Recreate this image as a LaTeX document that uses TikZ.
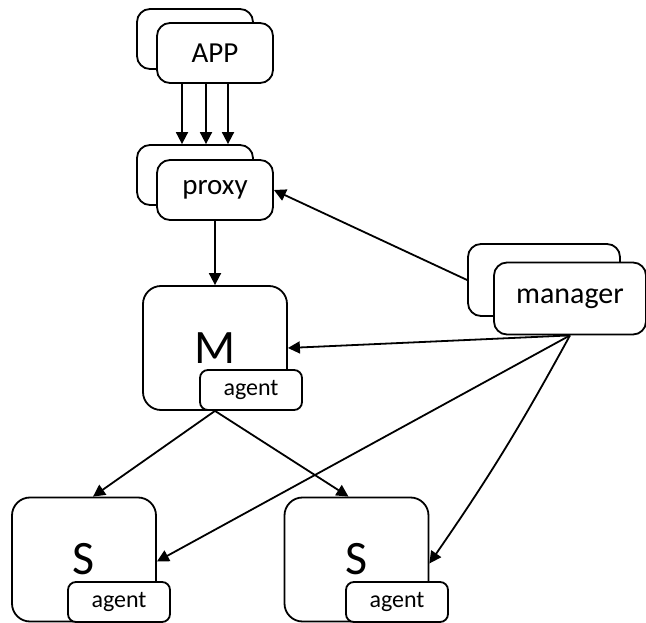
\documentclass[tikz,border=0pt]{standalone}
\usepackage{fontspec}
\setmainfont{Carlito}
\usetikzlibrary{arrows.meta}
\begin{document}
\begin{tikzpicture}
    [x=1pt,y=-1pt,
    box/.style={draw,line width=1.8pt,rounded corners=13pt,fill=white,inner sep=0pt},
    small/.style={box,minimum width=116pt,minimum height=60pt,font=\fontsize{29}{32}\selectfont},
    mgrbox/.style={box,minimum width=152pt,minimum height=72pt,font=\fontsize{30}{33}\selectfont},
    host/.style={box,rounded corners=18pt,minimum width=144pt,minimum height=124pt,font=\fontsize{48}{52}\selectfont},
    agentbox/.style={box,rounded corners=8pt,minimum width=102pt,minimum height=40pt,font=\fontsize{24}{28}\selectfont},
    arr/.style={line width=1.8pt,-{Triangle[length=12pt,width=12pt]}}]
    \useasboundingbox (0,0) rectangle (646,623);
    % apps and proxies
    \node[small] (appback) at (195,39) {};
    \node[small] (app) at (215,53) {APP};
    \node[small] (proxyback) at (195,175) {};
    \node[small] (proxy) at (215,190) {proxy};
    % manager
    \node[mgrbox] (mgrback) at (544,280) {};
    \node[mgrbox] (mgr) at (570,298.5) {manager};
    % master and slaves
    \node[host] (M) at (215,348) {M};
    \node[agentbox] (Magent) at (251,390) {agent};
    \node[host] (S1) at (84,559.5) {S};
    \node[agentbox] (S1agent) at (119,602) {agent};
    \node[host] (S2) at (356.5,559.5) {S};
    \node[agentbox] (S2agent) at (397,602) {agent};
    % connectors
    \foreach \dx in {-33,-9,13}
      \draw[arr] ([xshift=\dx pt]app.south) -- ([xshift=\dx pt]app.south |- proxyback.north);
    \draw[arr] (proxy) -- (M);
    \draw[arr] (mgrback.west) -- (proxy.east);
    \draw[arr] (mgr.south) -- (M.east);
    \draw[arr] (mgr.south) -- ([yshift=-2pt]S1.east);
    \draw[arr] (mgr.south) to[bend left=3] ([yshift=-4pt]S2.east);
    \draw[arr] (M.south) -- ([xshift=9pt]S1.north);
    \draw[arr] (M.south) -- ([xshift=-8pt]S2.north);
  \end{tikzpicture}
\end{document}
